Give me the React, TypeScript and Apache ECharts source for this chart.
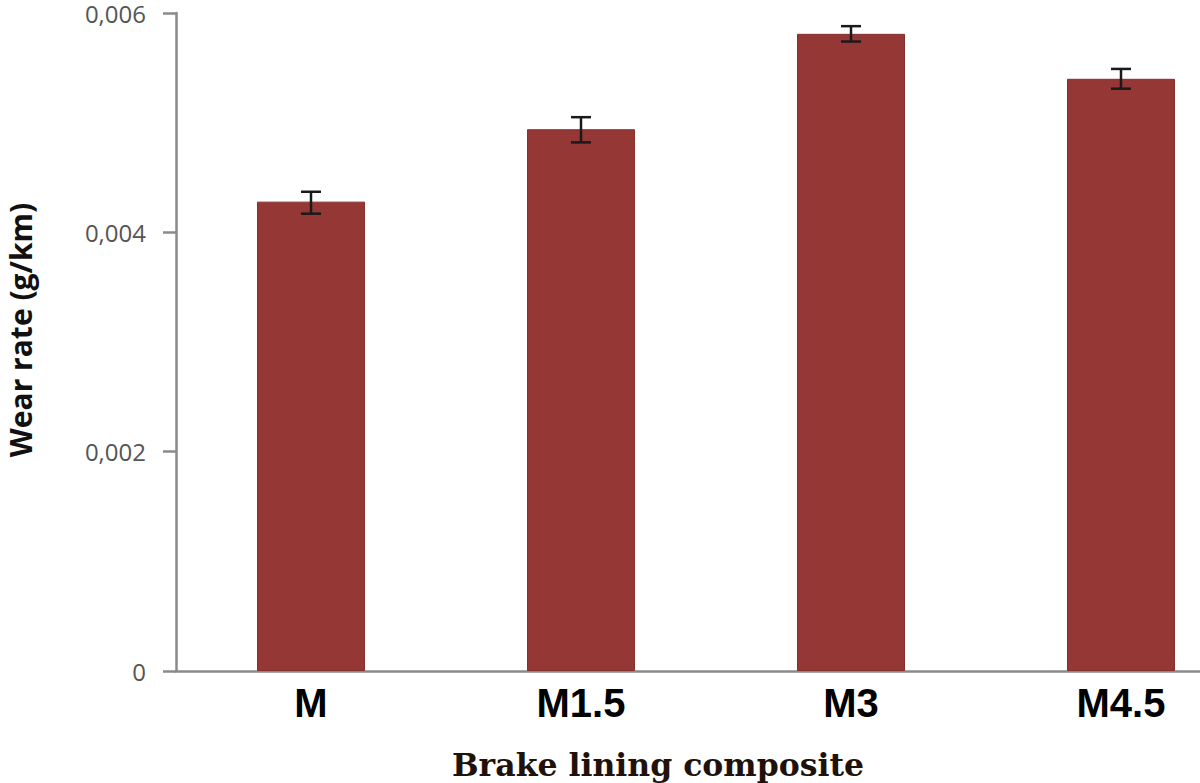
import React, { useEffect, useRef } from "react";
import * as echarts from "echarts";

const categories = ["M", "M1.5", "M3", "M4.5"];
const wearRate = [0.00428, 0.00494, 0.00581, 0.0054];
const errLow = [0.00417, 0.00482, 0.00574, 0.00531];
const errHigh = [0.00437, 0.00505, 0.00588, 0.00549];
const yTicks = { min: 0, max: 0.006, interval: 0.002 };

export default function App() {
  const ref = useRef<HTMLDivElement>(null);
  useEffect(() => {
    if (!ref.current) return;
    const chart = echarts.init(ref.current, null, { renderer: "svg" });
    const errData = categories.map((_, i) => [i, errLow[i], errHigh[i]]);
    chart.setOption({
      animation: false,
      backgroundColor: "#ffffff",
      grid: { left: 176, top: 13, width: 1080, height: 658, containLabel: false },
      xAxis: {
        type: "category",
        data: categories,
        axisLine: { lineStyle: { color: "#8a8a8a", width: 2.5 } },
        axisTick: { show: false },
        axisLabel: {
          color: "#000000",
          fontFamily: "Liberation Sans",
          fontWeight: "bold",
          fontSize: 40,
          margin: 12,
        },
      },
      yAxis: {
        type: "value",
        min: yTicks.min,
        max: yTicks.max,
        interval: yTicks.interval,
        splitLine: { show: false },
        axisLine: { show: true, lineStyle: { color: "#8a8a8a", width: 2.5 } },
        axisTick: { show: true, length: 13, lineStyle: { color: "#8a8a8a", width: 2.5 } },
        axisLabel: {
          color: "#555555",
          fontFamily: "Open Sans",
          fontSize: 24,
          lineHeight: 20,
          padding: [3, 0, 0, 0],
          margin: 30,
          formatter: (v: number) => (v === 0 ? "0" : v.toFixed(3).replace(".", ",")),
        },
      },
      series: [
        {
          type: "bar",
          data: wearRate,
          barWidth: "40%",
          itemStyle: { color: "#953735", borderColor: "#86302e", borderWidth: 1 },
        },
        {
          type: "custom",
          data: errData,
          z: 10,
          renderItem: (params: any, api: any) => {
            const x = api.value(0);
            const lo = api.coord([x, api.value(1)]);
            const hi = api.coord([x, api.value(2)]);
            const half = 10;
            const style = { stroke: "#1a1a1a", lineWidth: 2.5 };
            return {
              type: "group",
              children: [
                { type: "line", shape: { x1: lo[0], y1: lo[1], x2: hi[0], y2: hi[1] }, style },
                { type: "line", shape: { x1: hi[0] - half, y1: hi[1], x2: hi[0] + half, y2: hi[1] }, style },
                { type: "line", shape: { x1: lo[0] - half, y1: lo[1], x2: lo[0] + half, y2: lo[1] }, style },
              ],
            };
          },
        },
      ],
      graphic: [
        {
          type: "text",
          x: 20,
          y: 330,
          rotation: Math.PI / 2,
          style: {
            text: "Wear rate (g/km)",
            fill: "#111111",
            font: "bold 30px 'Open Sans'",
            lineHeight: 30,
            align: "center",
            verticalAlign: "middle",
          },
        },
        {
          type: "text",
          x: 658,
          y: 764,
          style: {
            text: "Brake lining composite",
            fill: "#1e120a",
            font: "bold 31.5px 'DejaVu Serif'",
            align: "center",
            verticalAlign: "middle",
          },
        },
      ],
    });
    return () => chart.dispose();
  }, []);
  return (
    <div style={{ position: "fixed", left: 0, top: 0, width: 1200, height: 783, overflow: "hidden", background: "#fff" }}>
      <div ref={ref} style={{ width: 1256, height: 783 }} />
    </div>
  );
}
